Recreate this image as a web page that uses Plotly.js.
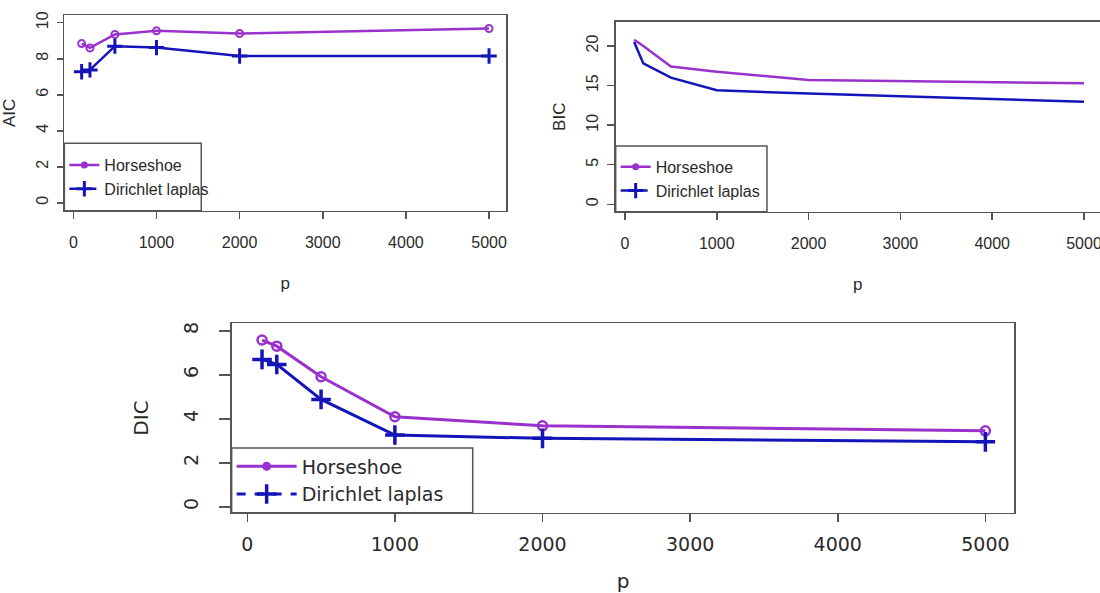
<!DOCTYPE html>
<html>
<head>
<meta charset="utf-8">
<script src="https://cdn.plot.ly/plotly-3.0.1.min.js"></script>
<style>html,body{margin:0;padding:0;background:#fff;}#chart{width:1100px;height:593px;}</style>
</head>
<body>
<div id="chart"></div>
<script>
// ---- data ----
const p = [100, 200, 500, 1000, 2000, 5000];
const seriesNames = ['Horseshoe', 'Dirichlet laplas'];
const aicHorseshoe = [8.84, 8.6, 9.35, 9.55, 9.4, 9.68];
const aicDirichlet = [7.28, 7.38, 8.7, 8.62, 8.15, 8.15];
const bicHorseshoe = [20.8, 20.0, 17.4, 16.76, 15.7, 15.28];
const bicDirichlet = [20.5, 17.8, 16.0, 14.4, 14.0, 12.97];
const dicHorseshoe = [7.58, 7.3, 5.91, 4.09, 3.68, 3.45];
const dicDirichlet = [6.7, 6.47, 4.88, 3.26, 3.11, 2.95];
const xTicks = [0, 1000, 2000, 3000, 4000, 5000];
const aicTicks = [0, 2, 4, 6, 8, 10];
const bicTicks = [0, 5, 10, 15, 20];
const dicTicks = [0, 2, 4, 6, 8];
const yTitles = ['AIC', 'BIC', 'DIC'];
const xTitle = 'p';

// ---- style ----
const PURPLE = '#9932CC';
const BLUE = '#1414B8';
const TXT = '#2a2a2a';
const AX = '#555555';
const topFont = "'Liberation Sans Narrow', 'Arial Narrow', 'Liberation Sans', Arial, sans-serif";
const botFont = "'DejaVu Sans', 'Liberation Sans', sans-serif";

function dataTraces(xa, ya, h, d, showMarkers, sc) {
  return [
    {x: p, y: h, xaxis: xa, yaxis: ya, name: seriesNames[0], showlegend: false, hoverinfo: 'skip',
     mode: showMarkers ? 'lines+markers' : 'lines', line: {color: PURPLE, width: sc.lw},
     marker: {symbol: 'circle-open', size: sc.cs, color: PURPLE, line: {color: PURPLE, width: sc.cw}}},
    {x: p, y: d, xaxis: xa, yaxis: ya, name: seriesNames[1], showlegend: false, hoverinfo: 'skip',
     mode: showMarkers ? 'lines+markers' : 'lines', line: {color: BLUE, width: sc.lw},
     marker: {symbol: 'cross-thin', size: sc.ps, color: BLUE, line: {color: BLUE, width: sc.pw}}}
  ];
}
function legendTraces(xa, ya, leg, sc) {
  return [
    {x: [null], y: [null], xaxis: xa, yaxis: ya, name: seriesNames[0], legend: leg, mode: 'lines+markers',
     line: {color: PURPLE, width: sc.lw}, marker: {symbol: 'circle', size: sc.cs, color: PURPLE}},
    {x: [null], y: [null], xaxis: xa, yaxis: ya, name: seriesNames[1], legend: leg, mode: 'lines+markers',
     line: {color: BLUE, width: sc.lw, dash: 'dash'},
     marker: {symbol: 'cross-thin', size: sc.ps, color: BLUE, line: {color: BLUE, width: sc.pw}}}
  ];
}
const scTop = {lw: 2.5, cs: 7, cw: 2, ps: 11, pw: 3};
const scBot = {lw: 3, cs: 9, cw: 2.5, ps: 14, pw: 3.5};

const traces = [].concat(
  dataTraces('x', 'y', aicHorseshoe, aicDirichlet, true, scTop),
  legendTraces('x', 'y', 'legend', scTop),
  dataTraces('x2', 'y2', bicHorseshoe, bicDirichlet, false, scTop),
  legendTraces('x2', 'y2', 'legend2', scTop),
  dataTraces('x3', 'y3', dicHorseshoe, dicDirichlet, true, scBot),
  legendTraces('x3', 'y3', 'legend3', scBot)
);

function xAxis(domain, range, fam, fs, tfs, anchor, ticklen, standoff, lstand) {
  return {domain: domain, range: range, anchor: anchor, tickvals: xTicks, ticktext: xTicks.map(String),
    ticks: 'outside', ticklen: ticklen, tickwidth: 1.5, tickcolor: AX, showline: true, mirror: true,
    linecolor: AX, linewidth: 1.5, showgrid: false, zeroline: false, automargin: false, fixedrange: true,
    ticklabelstandoff: lstand, ticklabeloverflow: 'allow',
    tickfont: {family: fam, size: fs, color: TXT},
    title: {text: xTitle, font: {family: fam, size: tfs, color: TXT}, standoff: standoff}};
}
function yAxis(domain, range, ticks, title, fam, fs, tfs, anchor, ticklen, standoff, lstand) {
  return {domain: domain, range: range, anchor: anchor, tickvals: ticks, ticktext: ticks.map(String),
    tickangle: -90, ticks: 'outside', ticklen: ticklen, tickwidth: 1.5, tickcolor: AX, showline: true,
    mirror: true, linecolor: AX, linewidth: 1.5, showgrid: false, zeroline: false, automargin: false,
    fixedrange: true, ticklabelstandoff: lstand,
    tickfont: {family: fam, size: fs, color: TXT},
    title: {text: title, font: {family: fam, size: tfs, color: TXT}, standoff: standoff}};
}
function legendBox(xref, yref, w, h) {
  return {type: 'rect', xref: xref, yref: yref, x0: 0, x1: w, y0: 0, y1: h,
    fillcolor: '#ffffff', line: {color: AX, width: 1.5}, layer: 'below'};
}
function legendCfg(x, y, fam, fs, iw) {
  return {x: x, y: y, xanchor: 'left', yanchor: 'middle', bgcolor: 'rgba(0,0,0,0)', borderwidth: 0,
    font: {family: fam, size: fs, color: TXT}, itemwidth: iw, itemclick: false, itemdoubleclick: false};
}

const layout = {
  width: 1100, height: 593, margin: {l: 0, r: 0, t: 0, b: 0},
  paper_bgcolor: '#ffffff', plot_bgcolor: '#ffffff', showlegend: true,
  xaxis: xAxis([0.0585, 0.46], [-108, 5204], topFont, 16, 17, 'y', 7, 26, 10),
  yaxis: yAxis([0.6447, 0.9747], [-0.44, 10.43], aicTicks, yTitles[0], topFont, 16, 17, 'x', 6, 18, 2),
  xaxis2: xAxis([0.5597, 1], [-101, 5174], topFont, 16, 17, 'y2', 7, 26, 10),
  yaxis2: yAxis([0.643, 0.9634], [-0.935, 23.07], bicTicks, yTitles[1], topFont, 16, 17, 'x2', 7, 14, 3),
  xaxis3: xAxis([0.2106, 0.9221], [-105.7, 5196], botFont, 19, 20, 'y3', 8, 30, 6),
  yaxis3: yAxis([0.1354, 0.4548], [-0.27, 8.34], dicTicks, yTitles[2], botFont, 19, 20, 'x3', 11, 25, 14),
  legend: legendCfg(0.0585, 0.7015, topFont, 16, 30),
  legend2: legendCfg(0.5597, 0.6983, topFont, 16, 30),
  legend3: legendCfg(0.2106, 0.1897, botFont, 19, 60),
  shapes: [
    legendBox('x domain', 'y domain', 0.31, 0.3444),
    legendBox('x2 domain', 'y2 domain', 0.3124, 0.3458),
    legendBox('x3 domain', 'y3 domain', 0.308, 0.3416)
  ]
};

Plotly.newPlot('chart', traces, layout, {staticPlot: true, displayModeBar: false});
</script>
</body>
</html>
